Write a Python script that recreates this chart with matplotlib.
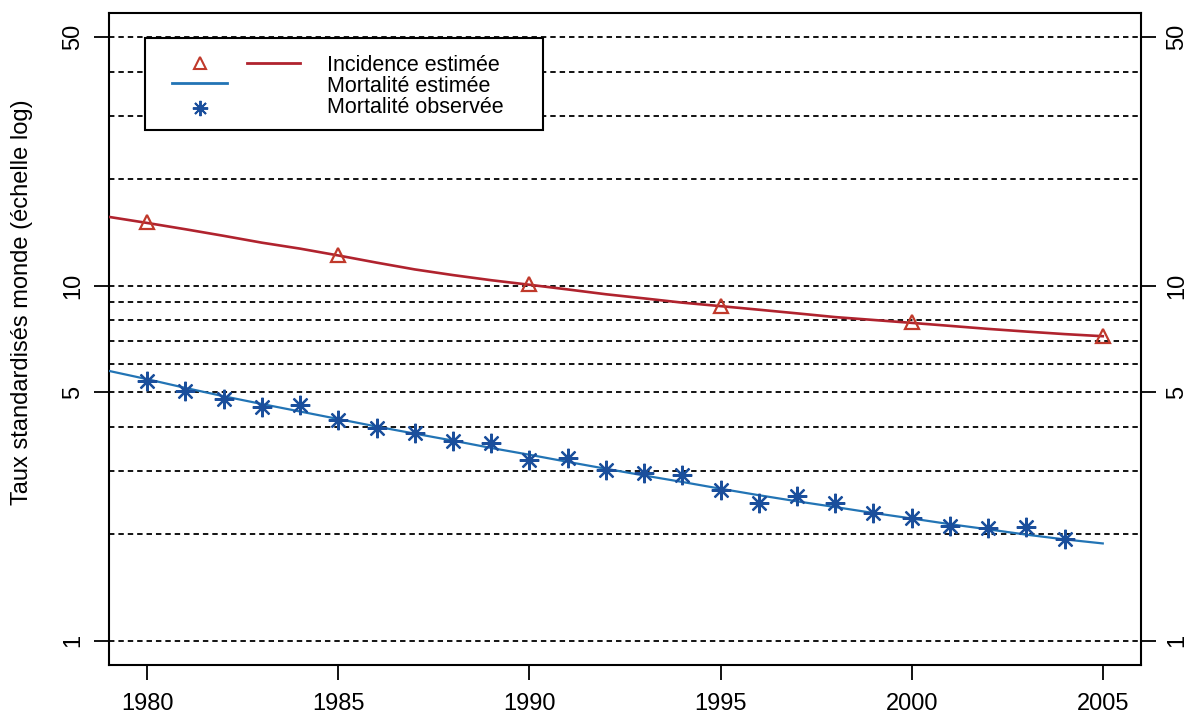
import numpy as np
import matplotlib.pyplot as plt
from matplotlib.patches import Rectangle

plt.rcParams['font.family'] = ['Liberation Sans', 'DejaVu Sans']

# estimated incidence (smoothed model), yearly
years_est = np.arange(1979, 2006)
incidence_est = [15.6, 15.0, 14.4, 13.8, 13.2, 12.7, 12.15, 11.6, 11.1, 10.7, 10.35,
                 10.05, 9.75, 9.45, 9.2, 8.95, 8.75, 8.55, 8.35, 8.15, 8.0,
                 7.85, 7.7, 7.55, 7.42, 7.3, 7.2]
mortality_est = [5.75, 5.45, 5.15, 4.88, 4.64, 4.42, 4.21, 4.01, 3.83, 3.66, 3.49,
                 3.34, 3.19, 3.05, 2.92, 2.80, 2.68, 2.57, 2.47, 2.38, 2.29,
                 2.21, 2.13, 2.06, 1.99, 1.93, 1.88]

# incidence points every 5 years
years_inc = [1980, 1985, 1990, 1995, 2000, 2005]
incidence_pts = [15.1, 12.2, 10.1, 8.78, 7.92, 7.23]

# observed mortality
years_obs = np.arange(1980, 2005)
mortality_obs = [5.38, 5.04, 4.80, 4.54, 4.60, 4.19, 3.97, 3.85, 3.64, 3.61,
                 3.22, 3.28, 3.02, 2.97, 2.92, 2.66, 2.45, 2.55, 2.45, 2.29,
                 2.21, 2.10, 2.08, 2.09, 1.93]

grid_levels = [1, 2, 3, 4, 5, 6, 7, 8, 9, 10, 20, 30, 40, 50]
y_ticks = [1, 5, 10, 50]
x_ticks = [1980, 1985, 1990, 1995, 2000, 2005]

red_line = '#b0232e'
red_pts = '#c0392b'
blue_line = '#2274b5'
blue_pts = '#1b4f9c'
star = (8, 2, 0)

fig = plt.figure(figsize=(11.94, 7.18), dpi=100)
ax = fig.add_axes([0.0913, 0.0738, 0.8643, 0.9081])

ax.set_yscale('log')
ax.set_xlim(1979, 2006)
ax.set_ylim(10 ** -0.068, 10 ** 1.767)

# dashed reference lines at each log step
for lev in grid_levels:
    ax.axhline(lev, color='black', lw=1.3, ls=(0, (3, 2.2)), zorder=1)

ax.plot(years_est, incidence_est, color=red_line, lw=1.9, zorder=3)
ax.plot(years_inc, incidence_pts, ls='none', marker='^', ms=10, mfc='none',
        mec=red_pts, mew=1.6, zorder=4)
ax.plot(years_est, mortality_est, color=blue_line, lw=1.6, zorder=3)
ax.plot(years_obs, mortality_obs, ls='none', marker=star, ms=14,
        mec=blue_pts, mew=1.6, zorder=4)

ax.set_xticks(x_ticks)
ax.set_xticklabels([str(x) for x in x_ticks])
ax.set_yticks(y_ticks)
ax.set_yticklabels([str(v) for v in y_ticks])
ax.yaxis.set_minor_locator(plt.NullLocator())
ax.tick_params(axis='both', which='major', direction='out', length=11, width=1.3,
               labelsize=17, color='black', pad=7)
ax.tick_params(axis='x', pad=9)
ax.tick_params(axis='y', right=True, labelright=True, labelrotation=90)
for t in ax.yaxis.get_major_ticks():
    t.label1.set_va('center')
    t.label2.set_va('center')

for sp in ax.spines.values():
    sp.set_linewidth(1.5)

ax.set_ylabel('Taux standardisés monde (échelle log)', fontsize=17)
ax.yaxis.set_label_coords(-0.074, 0.557)

# key box drawn by hand: symbol column, line column, text column
def fx(px):
    return (px - 109) / 1032.0

def fy(py):
    return (665 - py) / 652.0

box = Rectangle((fx(145), fy(130)), fx(543) - fx(145), fy(38) - fy(130),
                transform=ax.transAxes, facecolor='white', edgecolor='black',
                lw=1.5, zorder=6)
ax.add_patch(box)
tr = ax.transAxes
ax.plot([fx(200)], [fy(63)], transform=tr, ls='none', marker='^', ms=8, mfc='none',
        mec=red_pts, mew=1.5, zorder=7, clip_on=False)
ax.plot([fx(247), fx(300)], [fy(63), fy(63)], transform=tr, color=red_line, lw=2,
        zorder=7, clip_on=False)
ax.plot([fx(172), fx(227)], [fy(83), fy(83)], transform=tr, color=blue_line, lw=2,
        zorder=7, clip_on=False)
ax.plot([fx(200)], [fy(108)], transform=tr, ls='none', marker=star, ms=11,
        mec=blue_pts, mew=1.4, zorder=7, clip_on=False)
key_labels = ['Incidence estimée', 'Mortalité estimée', 'Mortalité observée']
for lab, py in zip(key_labels, [66, 87, 108]):
    ax.text(fx(327), fy(py), lab, transform=tr, fontsize=15.5, va='center',
            ha='left', zorder=8)

fig.savefig('out.png', dpi=100)
